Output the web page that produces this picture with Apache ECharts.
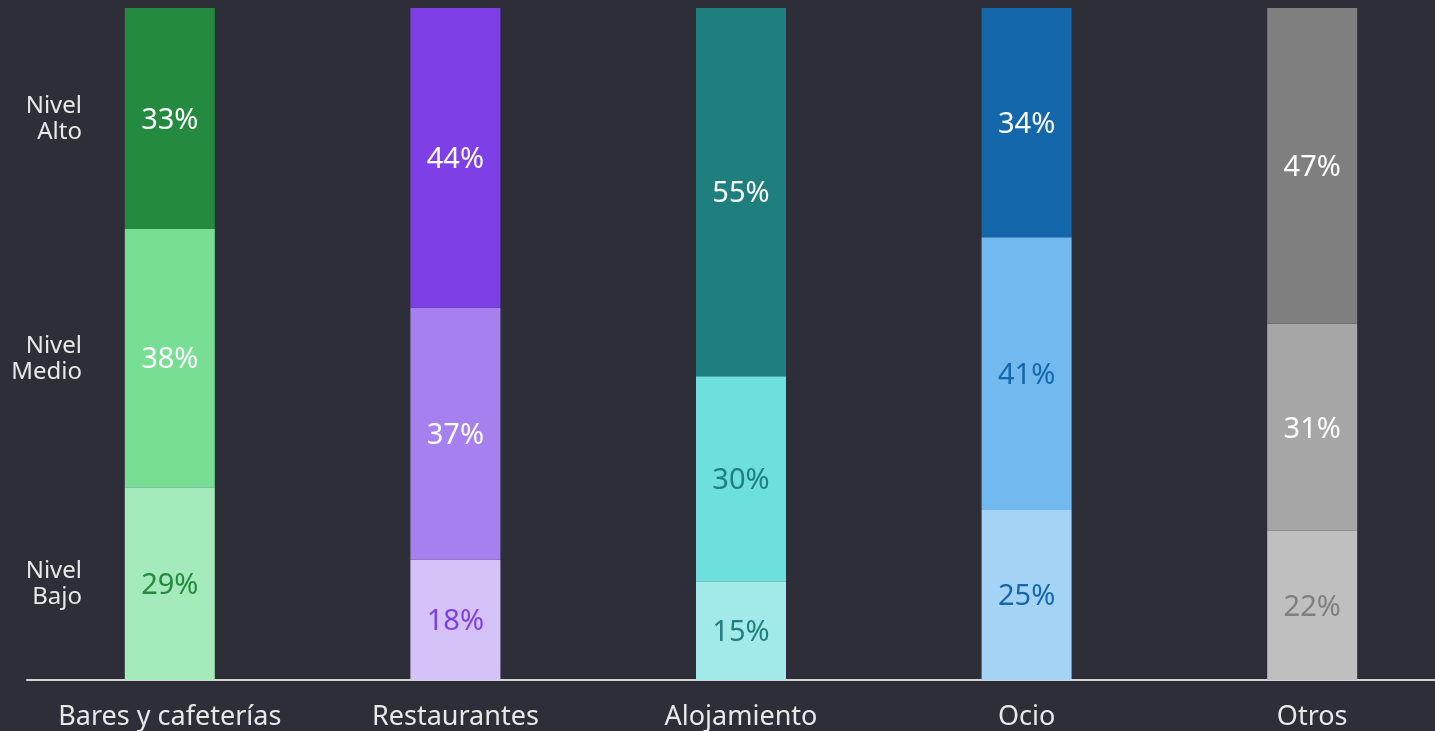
<!DOCTYPE html>
<html>
<head>
<meta charset="utf-8">
<script src="https://cdn.jsdelivr.net/npm/echarts@6/dist/echarts.min.js"></script>
<style>
  html, body { margin: 0; padding: 0; background: #2e2e38; }
  #chart { width: 1435px; height: 731px; }
</style>
</head>
<body>
<div id="chart"></div>
<script>
let categories = ['Bares y cafeterías', 'Restaurantes', 'Alojamiento', 'Ocio', 'Otros'];
let levelNames = ['Nivel\nBajo', 'Nivel\nMedio', 'Nivel\nAlto'];
// bar heights as measured on the picture (%)
let bajo = [28.7, 17.9, 14.7, 25.3, 22.2];
let medio = [38.4, 37.5, 30.5, 40.6, 30.8];
let alto = [32.9, 44.6, 54.8, 34.1, 47.0];
// printed labels
let bajoLabels = ['29%', '18%', '15%', '25%', '22%'];
let medioLabels = ['38%', '37%', '30%', '41%', '31%'];
let altoLabels = ['33%', '44%', '55%', '34%', '47%'];

let bajoColors = ['#a4eaba', '#d4c2f9', '#a2eaea', '#a5d3f6', '#bfbfbf'];
let medioColors = ['#77de93', '#a680ef', '#6ddfdc', '#72b9ef', '#a6a6a6'];
let altoColors = ['#238a3f', '#7e3fe6', '#1f7f7f', '#1467ab', '#7f7f7f'];
let bajoText = ['#238a3f', '#7e3fe6', '#1f7f7f', '#1467ab', '#7f7f7f'];
let medioText = ['#ffffff', '#ffffff', '#1f7f7f', '#1467ab', '#ffffff'];
let altoText = ['#ffffff', '#ffffff', '#ffffff', '#ffffff', '#ffffff'];

let fontName = '"Noto Sans", sans-serif';

let buildData = (values, labels, colors, textColors) => {
  return values.map((v, i) => ({
    value: v,
    itemStyle: { color: colors[i] },
    label: { formatter: labels[i], color: textColors[i] }
  }));
}

let makeSeries = (name, data) => ({
  name: name,
  type: 'bar',
  stack: 'total',
  barWidth: 90,
  label: {
    show: true,
    position: 'inside',
    fontFamily: fontName,
    fontSize: 29,
    offset: [0, 2]
  },
  data: data
});

let chart = echarts.init(document.getElementById('chart'));
let option = {
  backgroundColor: '#2e2e38',
  animation: false,
  grid: { left: 27, right: -20, top: 8, bottom: 51, containLabel: false, outerBoundsMode: 'none' },
  xAxis: {
    type: 'category',
    data: categories,
    axisLine: { lineStyle: { color: '#d4d4d4', width: 2 } },
    axisTick: { show: false },
    axisLabel: {
      color: '#e8e8e8',
      fontFamily: fontName,
      fontSize: 27,
      margin: 24,
      interval: 0,
      hideOverlap: false
    }
  },
  yAxis: {
    type: 'value',
    min: 0,
    max: 100,
    show: false
  },
  series: [
    makeSeries('Nivel Bajo', buildData(bajo, bajoLabels, bajoColors, bajoText)),
    makeSeries('Nivel Medio', buildData(medio, medioLabels, medioColors, medioText)),
    makeSeries('Nivel Alto', buildData(alto, altoLabels, altoColors, altoText))
  ]
};
chart.setOption(option);

// level names placed beside the first bar, at the middle of each of its segments
let stacks = [bajo[0], medio[0], alto[0]];
let base = 0;
let texts = [];
stacks.forEach((h, i) => {
  let mid = base + h / 2;
  base += h;
  let p = chart.convertToPixel({ gridIndex: 0 }, [0, mid]);
  texts.push({
    type: 'text',
    right: 1435 - 82,
    top: p[1] - 25,
    style: {
      text: levelNames[i],
      fill: '#e8e8e8',
      font: '24px "Noto Sans", sans-serif',
      textAlign: 'right',
      lineHeight: 26
    }
  });
});
chart.setOption({ graphic: texts });
</script>
</body>
</html>
